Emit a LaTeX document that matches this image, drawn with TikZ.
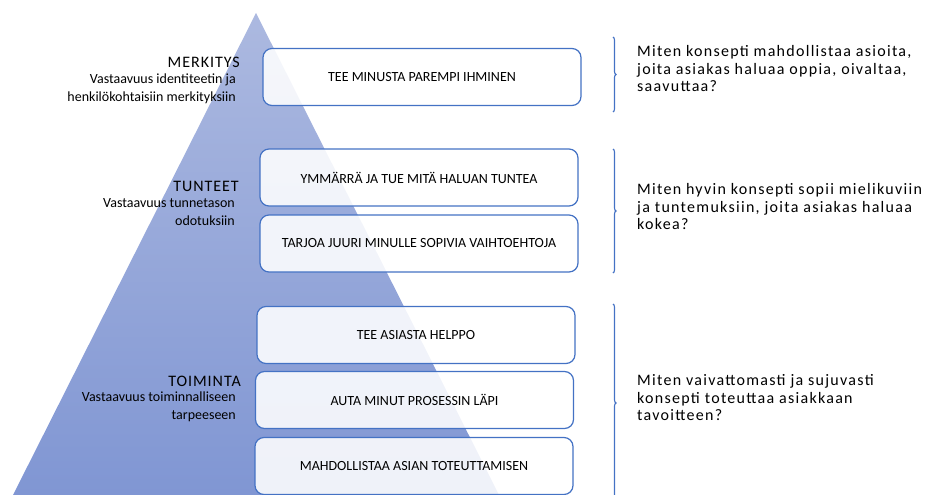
\documentclass[tikz,border=0pt]{standalone}
\usepackage{fontspec}
\setmainfont{Carlito}
\newfontfamily\spacedfont[LetterSpace=8]{Carlito}
\newfontfamily\titlefont[LetterSpace=6]{Carlito}
\usetikzlibrary{decorations.pathreplacing}
\definecolor{OfficeBlue}{RGB}{68,114,196}
\definecolor{PyramidTop}{RGB}{172,185,224}
\definecolor{PyramidBottom}{RGB}{128,150,211}

\begin{document}
\begin{tikzpicture}[x=1pt, y=-1pt,
    stepbox/.style={draw=OfficeBlue, line width=1.2pt, rounded corners=9pt, fill=white, fill opacity=0.88, text opacity=1,
      minimum width=318pt, minimum height=57pt, inner sep=0pt, font=\fontsize{14}{16}\selectfont},
    leveltitle/.style={anchor=base east, inner sep=0pt, font=\titlefont\fontsize{16}{18}\selectfont},
    levelsub/.style={anchor=north east, align=right, inner sep=0pt, font=\fontsize{14}{18}\selectfont},
    question/.style={anchor=north west, align=left, inner sep=0pt, font=\spacedfont\fontsize{16}{17.5}\selectfont},
    levelbrace/.style={draw=OfficeBlue, line width=1.1pt, decorate, decoration={brace, amplitude=3pt}}]
                \clip (0,0) rectangle (935,495);

                % Pyramid
                \shade[top color=PyramidTop, bottom color=PyramidBottom] (256,13) -- (499,495) -- (13,495) -- cycle;

                % Levels
                \node[leveltitle] (l1) at (240,67) {MERKITYS};
                \node[levelsub] (s1) at (236,74) {Vastaavuus identiteetin ja\\henkilökohtaisiin merkityksiin};
                \node[leveltitle] (l2) at (239,191) {TUNTEET};
                \node[levelsub] (s2) at (235,198) {Vastaavuus tunnetason\\odotuksiin};
                \node[leveltitle] (l3) at (241,386) {TOIMINTA};
                \node[levelsub] (s3) at (236,392) {Vastaavuus toiminnalliseen\\tarpeeseen};

                % Needs
                \node[stepbox] (b1) at (422,77) {TEE MINUSTA PAREMPI IHMINEN};
                \node[stepbox] (b2) at (419,177.5) {YMMÄRRÄ JA TUE MITÄ HALUAN TUNTEA};
                \node[stepbox] (b3) at (419,243.5) {TARJOA JUURI MINULLE SOPIVIA VAIHTOEHTOJA};
                \node[stepbox] (b4) at (416,335) {TEE ASIASTA HELPPO};
                \node[stepbox] (b5) at (414.5,400) {AUTA MINUT PROSESSIN LÄPI};
                \node[stepbox] (b6) at (414,466) {MAHDOLLISTAA ASIAN TOTEUTTAMISEN};

                % Braces
                \coordinate (r1a) at (613,37);
                \coordinate (r1b) at (613,112);
                \coordinate (r2a) at (613,149);
                \coordinate (r2b) at (613,273);
                \coordinate (r3a) at (613,304);
                \coordinate (r3b) at (613,502);
                \draw[levelbrace] (r1a) -- (r1b);
                \draw[levelbrace] (r2a) -- (r2b);
                \draw[levelbrace] (r3a) -- (r3b);

                % Questions
                \node[question] (q1) at (637,45.5) {Miten konsepti mahdollistaa asioita,\\joita asiakas haluaa oppia, oivaltaa,\\saavuttaa?};
                \node[question] (q2) at (637,183.5) {Miten hyvin konsepti sopii mielikuviin\\ja tuntemuksiin, joita asiakas haluaa\\kokea?};
                \node[question] (q3) at (637,374.5) {Miten vaivattomasti ja sujuvasti\\konsepti toteuttaa asiakkaan\\tavoitteen?};
            \end{tikzpicture}
\end{document}
